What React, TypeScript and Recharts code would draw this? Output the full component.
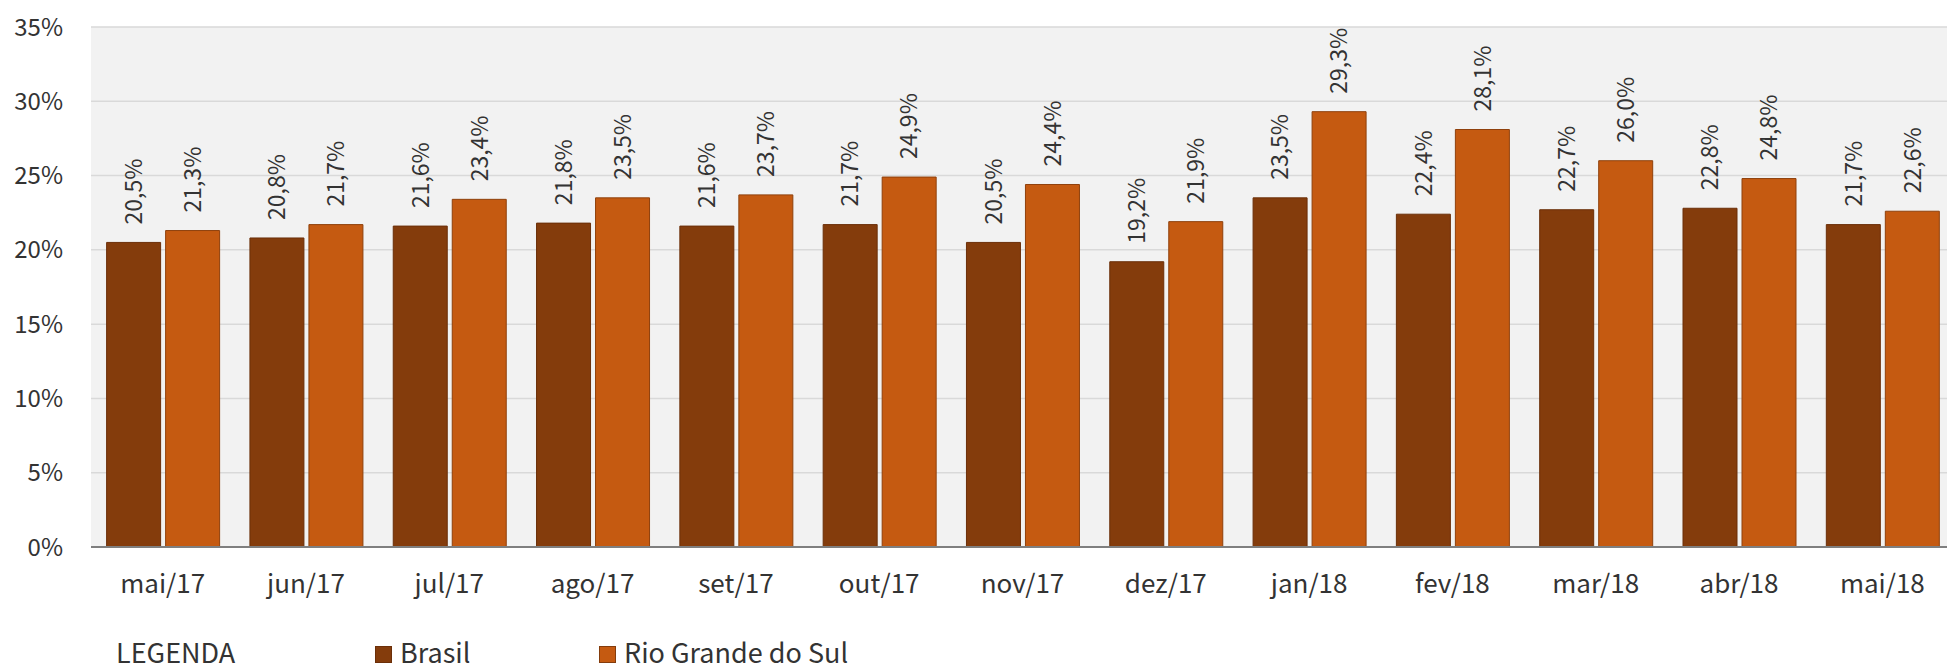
import React from "react";
import { BarChart, Bar, XAxis, YAxis, CartesianGrid, LabelList, Legend } from "recharts";

const categories = ["mai/17", "jun/17", "jul/17", "ago/17", "set/17", "out/17", "nov/17", "dez/17", "jan/18", "fev/18", "mar/18", "abr/18", "mai/18"];
const brasil = [20.5, 20.8, 21.6, 21.8, 21.6, 21.7, 20.5, 19.2, 23.5, 22.4, 22.7, 22.8, 21.7];
const rioGrandeDoSul = [21.3, 21.7, 23.4, 23.5, 23.7, 24.9, 24.4, 21.9, 29.3, 28.1, 26.0, 24.8, 22.6];
const yTicks = [0, 5, 10, 15, 20, 25, 30, 35];
const boundaryTicks = [0, 1, 2, 3, 4, 5, 6, 7, 8, 9, 10, 11, 12, 13];

const data = categories.map((c, i) => ({ cat: c, idx: i + 0.5, brasil: brasil[i], rs: rioGrandeDoSul[i] }));

const FONT = "'Noto Sans CJK JP', 'Noto Sans', sans-serif";
const TEXT = "#333333";

const fmt = (v: number) => v.toFixed(1).replace(".", ",") + "%";

const BarLabel = (props: any) => {
  const { x, y, width, value } = props;
  const cx = x + width / 2;
  const ly = y - 18;
  return (
    <text
      x={cx}
      y={ly}
      dy="0.36em"
      transform={`rotate(-90, ${cx}, ${ly})`}
      textAnchor="start"
      fontSize={23}
      fontFamily={FONT}
      fill={TEXT}
    >
      {fmt(value)}
    </text>
  );
};

const BoundaryTick = (props: any) => {
  const { x, y } = props;
  return <line x1={x} x2={x} y1={y - 9} y2={y + 9} stroke="#7f7f7f" strokeWidth={1.3} />;
};

const LegendContent = (props: any) => {
  const payload = props.payload || [];
  return (
    <div style={{ position: "relative", height: 18, fontFamily: FONT, fontSize: 27, color: TEXT }}>
      <span style={{ position: "absolute", left: 116, top: 0, lineHeight: "18px", whiteSpace: "nowrap" }}>LEGENDA</span>
      {payload.map((p: any, i: number) => (
        <span key={i} style={{ position: "absolute", left: i === 0 ? 375 : 599, top: 0, height: 18, display: "flex", alignItems: "center", lineHeight: "18px", whiteSpace: "nowrap" }}>
          <span style={{ display: "inline-block", width: 15, height: 15, background: p.color, border: `1px solid ${i === 0 ? "#6b2f09" : "#843C0C"}`, marginRight: 8, position: "relative", top: 2 }} />
          <span>{p.value}</span>
        </span>
      ))}
    </div>
  );
};

export default function App() {
  return (
    <div style={{ position: "fixed", left: 0, top: 0, width: 1947, height: 665, overflow: "hidden", background: "#fff" }}>
      <BarChart
        width={1955}
        height={665}
        data={data}
        margin={{ top: 27, right: 1, bottom: 58, left: 0 }}
        barCategoryGap="10.9%"
        barGap={5}
      >
        <CartesianGrid xAxisId="cat" vertical={false} stroke="#D9D9D9" strokeWidth={1.5} fill="#F2F2F2" />
        <XAxis
          xAxisId="ticks"
          type="number"
          dataKey="idx"
          domain={[0, 13]}
          allowDataOverflow
          ticks={boundaryTicks}
          interval={0}
          height={0}
          axisLine={false}
          tickLine={false}
          tickSize={0}
          tickMargin={0}
          tick={<BoundaryTick />}
        />
        <XAxis
          xAxisId="cat"
          dataKey="cat"
          height={60}
          axisLine={{ stroke: "#7f7f7f", strokeWidth: 2 }}
          tickLine={false}
          tickSize={0}
          tickMargin={28}
          interval={0}
          tick={{ fontSize: 26, fontFamily: FONT, fill: TEXT }}
        />
        <YAxis
          domain={[0, 35]}
          ticks={yTicks}
          interval={0}
          width={91}
          axisLine={false}
          tickLine={false}
          tickSize={0}
          tickMargin={28}
          tickFormatter={(v: number) => `${v}%`}
          tick={{ fontSize: 24, fontFamily: FONT, fill: TEXT }}
        />
        <Legend
          layout="horizontal"
          verticalAlign="middle"
          align="center"
          wrapperStyle={{ top: 643, left: 0, width: 1947 }}
          content={<LegendContent />}
        />
        <Bar xAxisId="cat" dataKey="brasil" name="Brasil" fill="#843C0C" stroke="#6b2f09" strokeWidth={1} isAnimationActive={false}>
          <LabelList dataKey="brasil" content={<BarLabel />} />
        </Bar>
        <Bar xAxisId="cat" dataKey="rs" name="Rio Grande do Sul" fill="#C55A11" stroke="#8f400c" strokeWidth={1} isAnimationActive={false}>
          <LabelList dataKey="rs" content={<BarLabel />} />
        </Bar>
      </BarChart>
    </div>
  );
}
